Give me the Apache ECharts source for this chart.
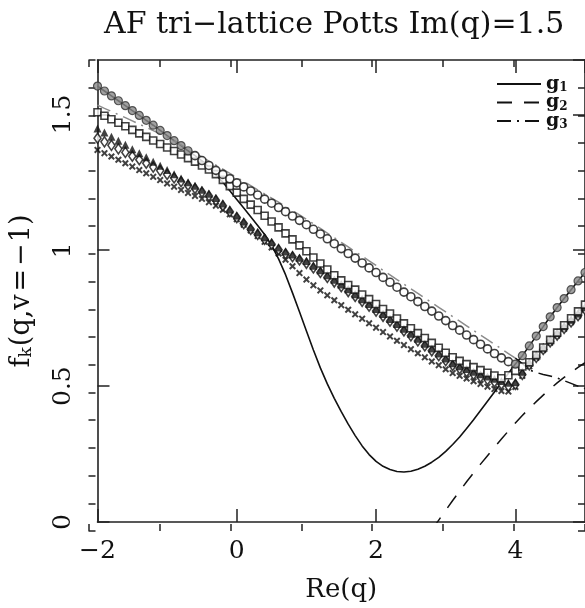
<!DOCTYPE html>
<html><head><meta charset="utf-8">
<script src="https://cdn.jsdelivr.net/npm/echarts@6/dist/echarts.min.js"></script>
<style>html,body{margin:0;padding:0;background:#fff}#c{width:585px;height:608px}</style>
</head><body><div id="c"></div><script>
// Re(q) sample points
const qRe = [-2.0,-1.9,-1.8,-1.7,-1.6,-1.5,-1.4,-1.3,-1.2,-1.1,-1.0,-0.9,-0.8,-0.7,-0.6,-0.5,-0.4,-0.3,-0.2,-0.1,
 0.0,0.1,0.2,0.3,0.4,0.5,0.6,0.7,0.8,0.9,1.0,1.1,1.2,1.3,1.4,1.5,1.6,1.7,1.8,1.9,
 2.0,2.1,2.2,2.3,2.4,2.5,2.6,2.7,2.8,2.9,3.0,3.1,3.2,3.3,3.4,3.5,3.6,3.7,3.8,3.9,
 4.0,4.1,4.2,4.3,4.4,4.5,4.6,4.7,4.8,4.9,5.0];
// finite-strip values (markers)
const circles = [1.604,1.586,1.568,1.550,1.532,1.514,1.496,1.478,1.460,1.441,1.422,1.403,1.385,1.366,1.348,1.330,1.312,1.294,1.279,1.263,
 1.248,1.233,1.218,1.203,1.188,1.173,1.157,1.142,1.126,1.110,1.094,1.077,1.060,1.042,1.024,1.006,0.988,0.971,0.953,0.935,
 0.918,0.900,0.882,0.864,0.846,0.829,0.811,0.793,0.776,0.758,0.741,0.723,0.706,0.688,0.671,0.654,0.637,0.620,0.604,0.590,
 0.581,0.612,0.648,0.684,0.719,0.755,0.789,0.822,0.855,0.887,0.918];
const squares = [1.508,1.495,1.482,1.469,1.456,1.443,1.430,1.417,1.404,1.391,1.378,1.365,1.352,1.339,1.326,1.312,1.297,1.280,1.259,1.236,
 1.212,1.189,1.168,1.148,1.127,1.106,1.084,1.062,1.040,1.018,0.996,0.973,0.951,0.929,0.908,0.889,0.872,0.855,0.837,0.820,
 0.802,0.784,0.767,0.749,0.731,0.713,0.695,0.677,0.659,0.641,0.623,0.606,0.593,0.581,0.570,0.559,0.549,0.539,0.529,0.540,
 0.556,0.572,0.588,0.614,0.642,0.670,0.697,0.724,0.750,0.775,0.800];
const triangles = [1.448,1.433,1.418,1.403,1.388,1.372,1.357,1.342,1.326,1.311,1.295,1.280,1.264,1.250,1.237,1.223,1.208,1.192,1.172,1.150,
 1.128,1.106,1.085,1.066,1.048,1.030,1.010,0.995,0.984,0.972,0.960,0.943,0.926,0.908,0.891,0.874,0.856,0.838,0.820,0.802,
 0.784,0.765,0.747,0.729,0.711,0.693,0.674,0.656,0.638,0.620,0.602,0.584,0.573,0.563,0.553,0.544,0.535,0.527,0.519,0.512,
 0.515,0.553,0.587,0.614,0.643,0.671,0.696,0.720,0.744,0.767,0.790];
const diamonds = [1.412,1.399,1.386,1.373,1.360,1.346,1.333,1.320,1.306,1.293,1.279,1.266,1.252,1.239,1.227,1.214,1.200,1.184,1.164,1.142,
 1.120,1.098,1.077,1.058,1.040,1.022,1.002,0.987,0.976,0.964,0.952,0.935,0.918,0.900,0.883,0.866,0.848,0.830,0.812,0.794,
 0.776,0.757,0.739,0.721,0.703,0.685,0.666,0.648,0.630,0.612,0.594,0.576,0.564,0.553,0.543,0.533,0.524,0.515,0.507,0.500,
 0.506,0.543,0.578,0.606,0.635,0.663,0.688,0.712,0.736,0.759,0.782];
const crosses = [1.369,1.357,1.345,1.333,1.320,1.308,1.295,1.283,1.270,1.258,1.246,1.234,1.222,1.211,1.200,1.189,1.177,1.164,1.149,1.132,
 1.114,1.094,1.073,1.052,1.031,1.010,0.988,0.965,0.941,0.916,0.892,0.871,0.852,0.834,0.816,0.798,0.781,0.764,0.748,0.731,
 0.715,0.699,0.683,0.667,0.651,0.636,0.621,0.606,0.591,0.577,0.562,0.548,0.538,0.528,0.518,0.508,0.498,0.489,0.482,0.480,
 0.497,0.538,0.573,0.604,0.633,0.660,0.686,0.711,0.735,0.758,0.781];
// g curves
const g1 = [1.604,1.586,1.568,1.550,1.532,1.514,1.496,1.478,1.460,1.441,1.422,1.403,1.385,1.366,1.348,1.329,1.306,1.279,1.250,1.219,
 1.187,1.155,1.123,1.091,1.058,1.018,0.968,0.910,0.843,0.774,0.703,0.633,0.567,0.508,0.455,0.406,0.360,0.318,0.280,0.248,
 0.223,0.205,0.193,0.186,0.184,0.187,0.194,0.205,0.220,0.238,0.260,0.285,0.313,0.344,0.376,0.410,0.444,0.478,0.512,0.547,
 0.581,0.612,0.648,0.684,0.719,0.755,0.789,0.822,0.855,0.887,0.918];
const g3 = [1.534,1.522,1.511,1.499,1.488,1.476,1.464,1.452,1.440,1.428,1.416,1.402,1.388,1.373,1.358,1.343,1.328,1.313,1.298,1.283,
 1.268,1.253,1.238,1.222,1.207,1.192,1.177,1.161,1.146,1.130,1.114,1.097,1.080,1.063,1.046,1.029,1.012,0.995,0.978,0.961,
 0.944,0.926,0.909,0.892,0.875,0.858,0.841,0.824,0.807,0.790,0.773,0.756,0.739,0.722,0.705,0.688,0.671,0.654,0.637,0.620,
 0.603,0.583,0.560,0.550,0.543,0.537,0.530,0.520,0.510,0.500,0.491];
const g2Re = [2.8,2.9,3.0,3.1,3.2,3.3,3.4,3.5,3.6,3.7,3.8,3.9,4.0,4.1,4.2,4.3,4.4,4.5,4.6,4.7,4.8,4.9,5.0];
const g2 = [-0.029,0.007,0.043,0.079,0.114,0.148,0.181,0.213,0.244,0.275,0.305,0.335,0.364,0.392,0.418,0.443,0.467,0.490,0.512,0.532,0.551,0.569,0.586];
const xTicks = [-2, 0, 2, 4];
const yTicks = [0, 0.5, 1, 1.5];

const FONT = 'DejaVu Serif';
const INK = '#111';
const pairs = (xs, ys) => xs.map((x, i) => [x, ys[i]]);

const chart = echarts.init(document.getElementById('c'), null, {renderer: 'canvas'});
const gridRect = {left: 88.5, top: 60, width: 497.5, height: 471};
const frame = {show: true, onZero: false, lineStyle: {color: '#222', width: 1.6}};
const noLine = {show: false, onZero: false};
const majorTick = len => ({show: true, inside: true, length: len, lineStyle: {color: '#222', width: 1.5}});
const minus = v => String(v).replace('-', '\u2212');

const xBase = {type: 'value', min: -2, max: 5, splitLine: {show: false}};
const yBase = {type: 'value', min: 0, max: 1.7, splitLine: {show: false}};

const crossPath = 'path://M0,2L2,0L5,3L8,0L10,2L7,5L10,8L8,10L5,7L2,10L0,8L3,5Z';

// y-axis name f_k(q,v=−1) with math-style spacing around the operators
const yName = '{c|f}{k|k}{c|(q,v}{o|=}{m|\u2212}{c|1)}';

chart.setOption({
  animation: false,
  backgroundColor: '#fff',
  title: {
    text: 'AF tri\u2212lattice Potts Im(q)=1.5',
    left: 104, top: 10, padding: 0,
    textStyle: {fontFamily: FONT, fontSize: 30, fontWeight: 'normal', color: INK}
  },
  grid: [Object.assign({}, gridRect), Object.assign({}, gridRect)],
  xAxis: [
    Object.assign({}, xBase, {gridIndex: 0, position: 'bottom', interval: 2, axisLine: frame, axisTick: majorTick(13),
      axisLabel: {show: true, margin: 17, showMaxLabel: false, color: INK, fontFamily: FONT, fontSize: 25,
        formatter: v => xTicks.includes(v) ? minus(v) : ''},
      name: 'Re(q)', nameLocation: 'middle', nameGap: 55,
      nameTextStyle: {color: INK, fontFamily: FONT, fontSize: 26}}),
    Object.assign({}, xBase, {gridIndex: 0, position: 'top', interval: 2, axisLine: frame, axisTick: majorTick(13), axisLabel: {show: false}}),
    Object.assign({}, xBase, {gridIndex: 1, position: 'bottom', interval: 1, axisLine: noLine, axisTick: majorTick(7), axisLabel: {show: false}}),
    Object.assign({}, xBase, {gridIndex: 1, position: 'top', interval: 1, axisLine: noLine, axisTick: majorTick(7), axisLabel: {show: false}})
  ],
  yAxis: [
    Object.assign({}, yBase, {gridIndex: 0, position: 'left', interval: 0.5, axisLine: frame, axisTick: majorTick(12),
      axisLabel: {show: true, rotate: 90, margin: 22, showMaxLabel: false, color: INK, fontFamily: FONT, fontSize: 25,
        formatter: v => yTicks.includes(v) ? String(v) : ''},
      name: yName, nameLocation: 'middle', nameGap: 62, nameRotate: 90,
      nameTextStyle: {rich: {
        c: {color: INK, fontFamily: FONT, fontSize: 27},
        o: {color: INK, fontFamily: FONT, fontSize: 27, padding: [0, 3, 0, 3]},
        m: {color: INK, fontFamily: FONT, fontSize: 27, padding: [0, 1, 0, 0]},
        k: {color: INK, fontFamily: FONT, fontSize: 17, padding: [11, 1, 0, 0]}
      }}}),
    Object.assign({}, yBase, {gridIndex: 0, position: 'right', interval: 0.5, axisLine: frame, axisTick: majorTick(12), axisLabel: {show: false}}),
    Object.assign({}, yBase, {gridIndex: 1, position: 'left', interval: 0.1, axisLine: noLine, axisTick: majorTick(7), axisLabel: {show: false}}),
    Object.assign({}, yBase, {gridIndex: 1, position: 'right', interval: 0.1, axisLine: noLine, axisTick: majorTick(7), axisLabel: {show: false}})
  ],
  legend: {
    data: ['g1', 'g2', 'g3'],
    orient: 'vertical', left: 491, top: 69,
    itemWidth: 44, itemHeight: 14, itemGap: -1.5,
    itemStyle: {opacity: 0},
    formatter: n => '{g|g}{s|' + n.slice(1) + '}',
    textStyle: {rich: {
      g: {fontFamily: FONT, fontWeight: 'bold', fontSize: 19, color: INK, lineHeight: 18},
      s: {fontFamily: FONT, fontWeight: 'bold', fontSize: 12, color: INK, lineHeight: 18, padding: [8, 0, 0, 0]}
    }}
  },
  series: [
    {name: 'g1', type: 'line', xAxisIndex: 0, yAxisIndex: 0, data: pairs(qRe, g1), showSymbol: false, symbol: 'none',
      itemStyle: {color: '#111'}, lineStyle: {color: '#111', width: 1.6, type: 'solid'}, z: 2},
    {name: 'g2', type: 'line', xAxisIndex: 0, yAxisIndex: 0, data: pairs(g2Re, g2), showSymbol: false, symbol: 'none',
      itemStyle: {color: '#111'}, lineStyle: {color: '#111', width: 1.5, type: [15, 12]}, z: 2},
    {name: 'g3 part', type: 'line', xAxisIndex: 0, yAxisIndex: 0, data: pairs(qRe, g3).filter(p => p[0] <= 4.0), showSymbol: false, symbol: 'none',
      itemStyle: {color: '#8c8c8c'}, lineStyle: {color: '#8c8c8c', width: 1.5, type: [14, 6, 2, 6]}, z: 2},
    {name: 'g3', type: 'line', xAxisIndex: 0, yAxisIndex: 0, data: pairs(qRe, g3).filter(p => p[0] >= 4.0), showSymbol: false, symbol: 'none',
      itemStyle: {color: '#111'}, lineStyle: {color: '#111', width: 1.5, type: [14, 6, 2, 6]}, z: 2},
    {name: 'crosses', type: 'scatter', data: pairs(qRe, crosses), symbol: crossPath, symbolSize: 7,
      itemStyle: {color: '#111'}, z: 3},
    {name: 'diamonds', type: 'scatter', data: pairs(qRe, diamonds), symbol: 'diamond', symbolSize: [7, 10],
      itemStyle: {color: '#fff', borderColor: '#111', borderWidth: 1.6}, z: 3},
    {name: 'triangles', type: 'scatter', data: pairs(qRe, triangles), symbol: 'triangle', symbolSize: 8,
      itemStyle: {color: '#111'}, z: 3},
    {name: 'squares', type: 'scatter', data: pairs(qRe, squares), symbol: 'rect', symbolSize: 7,
      itemStyle: {color: '#fff', borderColor: '#111', borderWidth: 1.6}, z: 3},
    {name: 'circles', type: 'scatter', symbol: 'circle', symbolSize: 8, z: 4,
      data: pairs(qRe, circles).map(p => ({value: p, itemStyle: (p[0] <= -0.7 || p[0] >= 4.0)
        ? {color: '#8a8a8a', borderColor: '#333', borderWidth: 1.2}
        : {color: '#fff', borderColor: '#111', borderWidth: 1.6}}))}
  ]
});
</script></body></html>
